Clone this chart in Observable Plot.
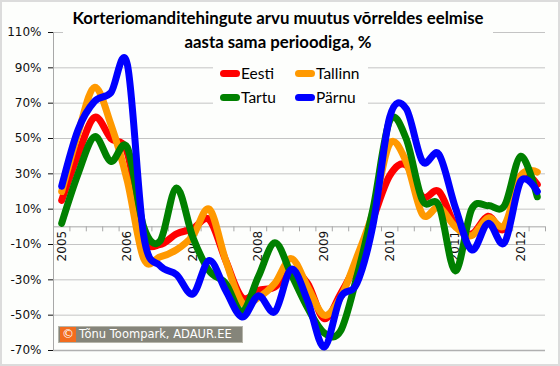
<!DOCTYPE html>
<html>
<head>
<meta charset="utf-8">
<script src="https://cdn.jsdelivr.net/npm/d3@7"></script>
<script src="https://cdn.jsdelivr.net/npm/@observablehq/plot@0.6"></script>
<style>
  html, body { margin: 0; padding: 0; background: #fff; }
  #wrap { position: relative; width: 560px; height: 366px; background: #fdfefc; overflow: hidden; }
  #frame { position: absolute; left: 0; top: 0; width: 556px; height: 362px; border: 2px solid #dcdcdc; pointer-events: none; }
  #title { position: absolute; left: 63px; top: 6px; width: 430px; text-align: center; background: #fdfefc;
           font-family: Lato, "Open Sans", sans-serif; font-weight: bold; font-size: 16.8px; line-height: 24px; color: #000; }
  #legend { position: absolute; left: 213px; top: 60px; width: 155px; height: 50px; background: #fdfefc;
            font-family: Lato, "Open Sans", sans-serif; font-size: 15.5px; color: #000; }
  .item { position: absolute; display: flex; align-items: center; height: 20px; }
  .sw { width: 20px; height: 7px; border-radius: 4px; margin-right: 1px; }
  #copy { position: absolute; left: 58px; top: 326px; width: 183px; height: 15px; background: #85857a; border: 1px solid #b5b5aa;
          font-family: "DejaVu Sans", sans-serif; font-size: 11.5px; color: #fff; line-height: 15px; white-space: nowrap; }
  #copy .c { display: inline-block; width: 16px; height: 15px; background: #f26c1e; text-align: center; margin-left: 1px; margin-right: 3px; font-size: 12px; }
</style>
</head>
<body>
<div id="wrap">
  <div id="chart"></div>
  <div id="title">Korteriomanditehingute arvu muutus võrreldes eelmise<br>aasta sama perioodiga, %</div>
  <div id="legend"></div>
  <div id="copy"><span class="c">©</span>Tõnu Toompark, ADAUR.EE</div>
  <div id="frame"></div>
</div>
<script>
// Quarters 2005 Q1 … 2012 Q2
const periods = [
  "2005 Q1","2005 Q2","2005 Q3","2005 Q4",
  "2006 Q1","2006 Q2","2006 Q3","2006 Q4",
  "2007 Q1","2007 Q2","2007 Q3","2007 Q4",
  "2008 Q1","2008 Q2","2008 Q3","2008 Q4",
  "2009 Q1","2009 Q2","2009 Q3","2009 Q4",
  "2010 Q1","2010 Q2","2010 Q3","2010 Q4",
  "2011 Q1","2011 Q2","2011 Q3","2011 Q4",
  "2012 Q1","2012 Q2"
];
const yearLabels = ["2005","2006","2007","2008","2009","2010","2011","2012"];
const yTicks = [-70, -50, -30, -10, 10, 30, 50, 70, 90, 110];

const seriesNames = ["Eesti", "Tallinn", "Tartu", "Pärnu"];
const seriesColors = ["#ff0000", "#ff9900", "#008000", "#0000ff"];

const eesti   = [15, 41, 62, 50, 42, -6, -10, -4, -1, 4, -19, -40, -36, -34, -25, -32, -52, -38, -20, 5, 29, 35, 17, 20, 1, -4, 6, -1, 29, 24];
const tallinn = [20, 53, 79, 58, 26, -18, -17, -13, -5, 10, -19, -43, -40, -32, -18, -34, -50, -40, -17, 9, 47, 37, 7, 11, 0, -5, 5, 1, 29, 31];
const tartu   = [2, 30, 51, 37, 45, 0, -8, 22, -6, -25, -32, -48, -28, -9, -27, -46, -60, -59, -28, 11, 60, 50, 15, 12, -25, 10, 12, 12, 40, 17];
const parnu   = [23, 55, 71, 76, 92, -5, -22, -27, -38, -19, -36, -51, -39, -48, -24, -42, -68, -40, -32, 2, 62, 67, 37, 41, 11, -13, 2, -9, 26, 20];

const seriesValues = [eesti, tallinn, tartu, parnu];

const rows = seriesValues.map((vals, s) => vals.map((v, i) => ({series: seriesNames[s], i, period: periods[i], v})));
const boundaries = d3.range(periods.length + 1).map(k => k - 0.5);
const yearIdx = periods.map((p, i) => ({i, year: p.slice(0, 4), q: p.slice(5)})).filter(d => d.q === "Q1");

const tickFont = "DejaVu Sans, sans-serif";

const chart = Plot.plot({
  width: 560,
  height: 366,
  marginLeft: 53,
  marginRight: 15,
  marginTop: 32,
  marginBottom: 16,
  style: {background: "transparent", fontFamily: tickFont, fontSize: "12px", color: "#111"},
  x: {type: "linear", domain: [-0.5, periods.length - 0.5], axis: null},
  y: {domain: [-70, 110], ticks: yTicks, tickFormat: d => d + "%", tickSize: 5, tickPadding: 7, label: null},
  marks: [
    Plot.ruleY(yTicks.slice(1), {stroke: "#c4c4c4", strokeWidth: 1}),
    Plot.ruleY([yTicks[0]], {stroke: "#b0b0b0", strokeWidth: 1.5}),
    Plot.ruleX([-0.5], {stroke: "#a8a8a8", strokeWidth: 1}),
    Plot.ruleY([0], {stroke: "#a8a8a8", strokeWidth: 1}),
    Plot.ruleX(boundaries, {x: d => d, y1: 0, y2: 0, insetBottom: -5, stroke: "#a8a8a8"}),
    Plot.text(yearIdx, {x: "i", y: 0, text: "year", rotate: -90, textAnchor: "end", dy: 4, fontFamily: tickFont, fontSize: 12, fill: "#111"}),
    ...seriesNames.map((name, s) =>
      Plot.line(rows[s], {x: "i", y: "v", stroke: seriesColors[s], strokeWidth: 7, strokeLinecap: "round", strokeLinejoin: "round", curve: "cardinal", tension: 0})
    )
  ]
});
document.getElementById("chart").appendChild(chart);

// legend
const legend = document.getElementById("legend");
const legendPos = [[7, 3], [82, 3], [7, 27], [82, 27]];
seriesNames.forEach((name, s) => {
  const it = document.createElement("div");
  it.className = "item";
  it.style.left = legendPos[s][0] + "px";
  it.style.top = legendPos[s][1] + "px";
  const sw = document.createElement("div");
  sw.className = "sw";
  sw.style.background = seriesColors[s];
  const t = document.createElement("span");
  t.textContent = name;
  it.appendChild(sw); it.appendChild(t);
  legend.appendChild(it);
});
</script>
</body>
</html>
